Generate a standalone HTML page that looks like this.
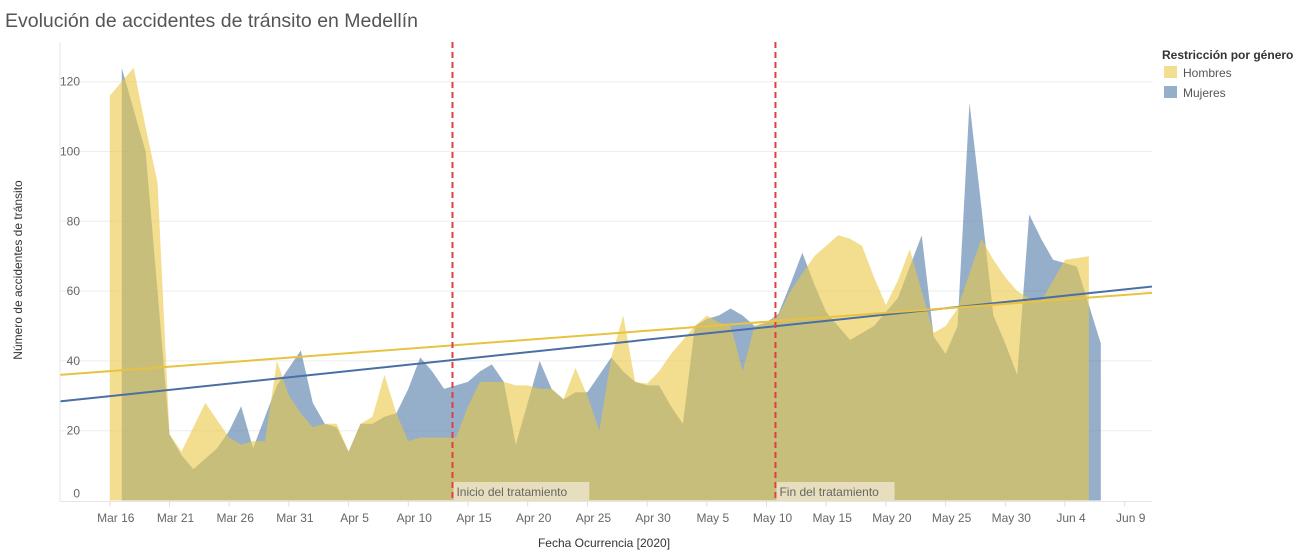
<!DOCTYPE html>
<html><head><meta charset="utf-8">
<style>
body{margin:0;background:#fff;width:1301px;height:558px;overflow:hidden;font-family:"Liberation Sans",sans-serif;}
svg{position:absolute;left:0;top:0}
</style></head>
<body>
<svg id="chart" width="1301" height="558">
<text x="5" y="27" font-size="19.5" fill="#555">Evolución de accidentes de tránsito en Medellín</text>
<g id="grid"></g>
<g id="areas"></g>
<g id="trends"></g>
<g id="refs"></g>
<g id="axes"></g>
<text transform="translate(22,270) rotate(-90)" text-anchor="middle" font-size="12" fill="#333">Número de accidentes de tránsito</text>
<text x="604" y="547" text-anchor="middle" font-size="12" fill="#333">Fecha Ocurrencia [2020]</text>
<g>
<text x="1162" y="59" font-size="12" font-weight="bold" fill="#333">Restricción por género</text>
<rect x="1164" y="66" width="13" height="12" fill="rgb(243,222,144)"/>
<text x="1183" y="77" font-size="12" fill="#555">Hombres</text>
<rect x="1164" y="86" width="13" height="12" fill="rgb(149,175,202)"/>
<text x="1183" y="97" font-size="12" fill="#555">Mujeres</text>
</g>
</svg>
<script>
// Day index 0 = Mar 16, 2020
const hombresStart = 0;
const hombres = [116,120,124,107,91,19,14,21,28,23,18,16,17,17,40,30,25,21,22,22,14,22,24,36,25,17,18,18,18,18,27,34,34,34,33,33,32,32,29,38,30,20,41,53,34,33.5,37,42,46,50,53,51,50,37,50,51,53,60,65,70,73,76,75,73,64,56,63,72,60,48,50,55,65,75,69,64,60,58,57,63,69,69.5,70];
const mujeresStart = 1;
const mujeres = [124,112,100,60,19,13,9,12,15,20,27,15,24,33,38,43,28,22,21,14,22,22,24,25,32,41,37,32,33,34,37,39,34,16,28,40,32,29,31,31,36,41,37,34,33,33,27,22,50,52,53,55,53,50,51,53.5,62,71,62,54,50,46,48,50,54,58,67,76,47,42,50,114,84,53,45,36,82,75,69,68,67,56,45];
// Trend line values at the left and right edges of the plot (Tableau linear trend)
const trendHombres = [36, 59.5];
const trendMujeres = [28.4, 61.3];
const yTicks = [0,20,40,60,80,100,120];
const xTickDays = [0,5,10,15,20,25,30,35,40,45,50,55,60,65,70,75,80,85];
const xTickLabels = ["Mar 16","Mar 21","Mar 26","Mar 31","Apr 5","Apr 10","Apr 15","Apr 20","Apr 25","Apr 30","May 5","May 10","May 15","May 20","May 25","May 30","Jun 4","Jun 9"];
const refDays = [28.7, 55.75];
const refLabels = ["Inicio del tratamiento","Fin del tratamiento"];

const NS="http://www.w3.org/2000/svg";
const X0=60, X1=1152, Y0=500.5, Y1=42;
function xs(d){return 109.8+d*11.94;}
function ys(v){return 500.5-v*3.49;}
function mk(tag,attrs,parent){const e=document.createElementNS(NS,tag);for(const k in attrs)e.setAttribute(k,attrs[k]);parent.appendChild(e);return e;}

const grid=document.getElementById('grid');
yTicks.forEach((t,i)=>{
  if(t>0){const l=mk('line',{x1:X0,x2:X1,y1:ys(t),y2:ys(t),stroke:'#eee','stroke-width':1},grid);
  
  }
  const tx=mk('text',{x:80,y:(t===0?ys(t)-3:ys(t)+4),'text-anchor':'end','font-size':12,fill:'#666'},grid);
  tx.textContent=t;
  
  
});

const areas=document.getElementById('areas');
function area(data,start,fill,name){
  let d='M'+xs(start)+','+Y0;
  data.forEach((v,i)=>{d+=' L'+xs(start+i)+','+ys(v);});
  d+=' L'+xs(start+data.length-1)+','+Y0+' Z';
  const p=mk('path',{d:d,fill:fill},areas);
  
  
}
area(mujeres,mujeresStart,'rgba(78,121,167,0.6)','area-mujeres');
area(hombres,hombresStart,'rgba(235,200,70,0.6)','area-hombres');

const trends=document.getElementById('trends');
function trend(vals,color,name){
  const l=mk('line',{x1:X0,x2:X1,y1:ys(vals[0]),y2:ys(vals[1]),stroke:color,'stroke-width':2},trends);
  
  
}
trend(trendMujeres,'#4a6fa3','trend-mujeres');
trend(trendHombres,'#e8c240','trend-hombres');

const axes=document.getElementById('axes');
const yl=mk('line',{x1:X0,x2:X0,y1:Y1,y2:Y0+1,stroke:'#e6e6e6'},axes);


const xl=mk('line',{x1:X0,x2:X1,y1:Y0+1,y2:Y0+1,stroke:'#e6e6e6'},axes);


xTickDays.forEach((d,i)=>{
  const tk=mk('line',{x1:xs(d),x2:xs(d),y1:Y0+1,y2:Y0+6,stroke:'#ddd'},axes);
  
  
  const t=mk('text',{x:xs(d)+6,y:522,'text-anchor':'middle','font-size':12,fill:'#666'},axes);
  t.textContent=xTickLabels[i];
  
  
});

const refs=document.getElementById('refs');
refDays.forEach((d,i)=>{
  const x=xs(d);
  const l=mk('line',{x1:x,x2:x,y1:Y1,y2:Y0,stroke:'#e04040','stroke-width':2,'stroke-dasharray':'6,4'},refs);
  
  
  const w=refLabels[i].length*5.9+6;
  const r=mk('rect',{x:x+1,y:482,width:w,height:18,fill:'rgba(235,228,200,0.85)'},refs);
  
  
  const t=mk('text',{x:x+4,y:496,'font-size':12,fill:'#666'},refs);
  t.textContent=refLabels[i];
  
  
});
</script>
</body></html>
